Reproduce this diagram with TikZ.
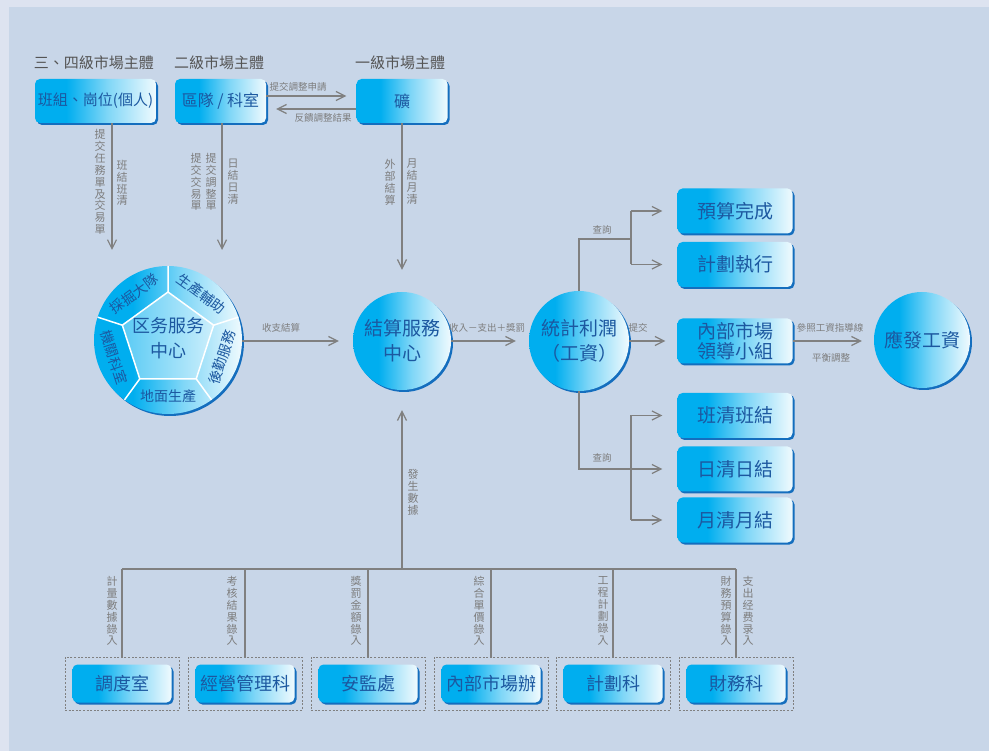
\documentclass[tikz,border=0pt]{standalone}
\usepackage{fontspec}
\setmainfont{Noto Sans CJK TC}
\usepackage{xcolor}
\usepackage{tikz}
\usetikzlibrary{arrows.meta, positioning, shadows}
\definecolor{pagegray}{RGB}{221, 227, 240}
\definecolor{panelblue}{RGB}{200, 214, 232}
\definecolor{boxcyan}{RGB}{0, 174, 239}
\definecolor{edgeblue}{RGB}{20, 110, 190}
\definecolor{inkblue}{RGB}{28, 88, 160}
\definecolor{wiregray}{RGB}{128, 128, 128}
\definecolor{notegray}{RGB}{125, 125, 125}
\definecolor{headgray}{RGB}{85, 85, 85}
\colorlet{midcyan}{boxcyan!50!white}
\colorlet{palecyan}{white!94!boxcyan}
\pgfdeclarehorizontalshading{cyanfade}{100bp}{color(0bp)=(boxcyan); color(38bp)=(boxcyan); color(55bp)=(midcyan); color(75bp)=(palecyan); color(100bp)=(palecyan)}
\XeTeXlinebreaklocale "zh"
\XeTeXlinebreakskip = 0pt plus 1pt

\begin{document}
\begin{tikzpicture}[x=1pt, y=-1pt,
  unit/.style={rounded corners=5pt, shading=cyanfade, text=inkblue, inner sep=0pt, align=center,
    minimum width=115pt, minimum height=45pt, font=\fontsize{19}{20}\selectfont,
    drop shadow={shadow xshift=2pt, shadow yshift=-2pt, fill=edgeblue, opacity=1}},
  topunit/.style={minimum height=44pt, font=\fontsize{16}{18}\selectfont},
  lowunit/.style={minimum width=99pt, minimum height=38pt, font=\fontsize{18}{20}\selectfont},
  disc/.style={circle, shading=cyanfade, text=inkblue, inner sep=0pt, align=center,
    font=\fontsize{19}{25}\selectfont,
    drop shadow={shadow xshift=2pt, shadow yshift=-2pt, fill=edgeblue, opacity=1}},
  seg/.style={text=inkblue, inner sep=0pt, font=\fontsize{14}{16}\selectfont},
  dashbox/.style={draw=wiregray, dash pattern=on 2pt off 1.6pt, line width=0.9pt,
    minimum width=114pt, minimum height=53pt, inner sep=0pt},
  wire/.style={draw=wiregray, line width=1.2pt},
  flow/.style={wire, -{Straight Barb[length=9pt, width=9pt]}},
  head/.style={text=headgray, inner sep=0pt, font=\fontsize{15}{17}\selectfont},
  note/.style={text=notegray, inner sep=0pt, font=\fontsize{9.5}{11}\selectfont},
  vnote/.style={text=notegray, inner sep=0pt, text width=11.5pt, align=center, font=\fontsize{11}{11.9}\selectfont}]
  \useasboundingbox (0,0) rectangle (989,751);
  \fill[pagegray] (0,0) rectangle (989,751);
  \fill[panelblue] (9,7) rectangle (989,751);

  \node[head] (h34) at (94,63) {三、四級市場主體};
  \node[head] (h2) at (219,63) {二級市場主體};
  \node[head] (h1) at (400,63) {一級市場主體};
  \node[unit, topunit, minimum width=121pt, font=\fontsize{15}{17}\selectfont] (grp) at (95.5,101) {班組、崗位(個人)};
  \node[unit, topunit, minimum width=91pt] (team) at (220.5,101) {區隊 / 科室};
  \node[unit, topunit, minimum width=91pt] (mine) at (402,101) {礦};

  \draw[flow] ([yshift=5pt]team.east) -- ([yshift=5pt, xshift=-10pt]mine.west);
  \draw[flow] ([yshift=-8pt]mine.west) -- ([yshift=-8pt, xshift=10pt]team.east);
  \node[note] (lask) at (298,87) {提交調整申請};
  \node[note] (lback) at (323,118) {反饋調整結果};

  \node[disc, minimum size=148pt] (hub) at (168,340) {};
  \begin{scope}[shift={(hub.center)}, y=1pt]
    \draw[white, line width=1.5pt, left color=boxcyan!65!white, right color=boxcyan!20!white]
      (90:48) -- (162:48) -- (234:48) -- (306:48) -- (18:48) -- cycle;
    \draw[white, line width=1.5pt] (90:48) -- (90:74) (162:48) -- (162:74) (234:48) -- (234:74)
      (306:48) -- (306:74) (18:48) -- (18:74);
    \node[seg, rotate=36] (sdig) at (126:57) {採掘大隊};
    \node[seg, rotate=-36] (said) at (54:57) {生產輔助};
    \node[seg, rotate=72] (slog) at (-18:57) {後勤服務};
    \node[seg] (sgnd) at (270:56) {地面生產};
    \node[seg, rotate=-72] (soff) at (198:57) {機關科室};
    \node[seg, align=center, font=\fontsize{18}{25}\selectfont] (hubname) at (0,2) {区务服务\\中心};
  \end{scope}

  \node[disc, minimum size=98pt] (settle) at (402,341) {結算服務\\中心};
  \node[disc, minimum size=100pt] (profit) at (579,341) {統計利潤\\（工資）};
  \node[unit] (lead) at (735,341) {內部市場\\領導小組};
  \node[disc, minimum size=96pt] (wage) at (922,340) {應發工資};
  \node[unit] (budget) at (735,211) {預算完成};
  \node[unit] (plan) at (735,264.5) {計劃執行};
  \node[unit] (shiftend) at (735,415.5) {班清班結};
  \node[unit] (dayend) at (735,469) {日清日結};
  \node[unit] (monthend) at (735,520) {月清月結};

  \coordinate (in1) at (112,250);
  \coordinate (in2) at (222,250);
  \draw[flow] (grp.south -| in1) -- (in1);
  \draw[flow] (team.south -| in2) -- (in2);
  \draw[flow, shorten >=22pt] (mine.south) -- (settle.north);
  \node[vnote] (ltask) at (100,182) {提交任務單及交易單};
  \node[vnote] (lshift) at (122,183) {班結班清};
  \node[vnote] (ltrade) at (196,182) {提交交易單};
  \node[vnote] (ladjust) at (211,182) {提交調整單};
  \node[vnote] (lday) at (233,182) {日結日清};
  \node[vnote] (lext) at (390,182) {外部結算};
  \node[vnote] (lmonth) at (412,182) {月結月清};

  \draw[flow, shorten >=14pt] (hub.east |- settle) -- (settle.west);
  \draw[flow, shorten >=13pt] (settle.east) -- (profit.west);
  \draw[flow, shorten >=12pt] (profit.east) -- (lead.west);
  \draw[flow, shorten >=12pt] (lead.east) -- (wage.west |- lead);
  \node[note] (lsum) at (281,328) {收支結算};
  \node[note] (lcalc) at (487,328) {收入－支出＋獎罰};
  \node[note] (lhand) at (638,328) {提交};
  \node[note] (lguide) at (830,328) {參照工資指導線};
  \node[note] (lbal) at (831,358) {平衡調整};

  \coordinate (q1) at (631,239);
  \coordinate (q2) at (631,469);
  \draw[wire] (profit.north) |- (q1);
  \draw[wire] (q1 |- budget) -- (q1 |- plan);
  \draw[flow, shorten >=15pt] (q1 |- budget) -- (budget.west);
  \draw[flow, shorten >=15pt] (q1 |- plan) -- (plan.west);
  \draw[flow, shorten >=15pt] (profit.south) |- (dayend.west);
  \draw[wire] (q2 |- shiftend) -- (q2 |- monthend);
  \draw[flow, shorten >=15pt] (q2 |- shiftend) -- (shiftend.west);
  \draw[flow, shorten >=15pt] (q2 |- monthend) -- (monthend.west);
  \node[note] (lquery1) at (602,230) {查詢};
  \node[note] (lquery2) at (602,458) {查詢};

  \node[dashbox] (fdisp) at (122,683.5) {};
  \node[dashbox] (fmgmt) at (245,683.5) {};
  \node[dashbox] (fsafe) at (368,683.5) {};
  \node[dashbox] (fmkt) at (491,683.5) {};
  \node[dashbox] (fplan) at (613,683.5) {};
  \node[dashbox] (ffin) at (736,683.5) {};
  \node[unit, lowunit] (disp) at (fdisp) {調度室};
  \node[unit, lowunit] (mgmt) at (fmgmt) {經營管理科};
  \node[unit, lowunit] (safe) at (fsafe) {安監處};
  \node[unit, lowunit] (mkt) at (fmkt) {內部市場辦};
  \node[unit, lowunit] (plandept) at (fplan) {計劃科};
  \node[unit, lowunit] (fin) at (ffin) {財務科};

  \coordinate (bus) at (402,569);
  \draw[wire] (fdisp.north |- bus) -- (ffin.north |- bus);
  \draw[wire] (fdisp.north |- bus) -- (fdisp.north);
  \draw[wire] (fmgmt.north |- bus) -- (fmgmt.north);
  \draw[wire] (fsafe.north |- bus) -- (fsafe.north);
  \draw[wire] (fmkt.north |- bus) -- (fmkt.north);
  \draw[wire] (fplan.north |- bus) -- (fplan.north);
  \draw[wire] (ffin.north |- bus) -- (ffin.north);
  \draw[flow, shorten >=20pt] (bus) -- (settle.south);
  \node[vnote] (ldata) at (413,492) {發生數據};
  \node[vnote] (lmeas) at (112,611) {計量數據錄入};
  \node[vnote] (lexam) at (232,611) {考核結果錄入};
  \node[vnote] (lfine) at (356,611) {獎罰金額錄入};
  \node[vnote] (lprice) at (479,611) {綜合單價錄入};
  \node[vnote] (lproj) at (603,611) {工程計劃錄入};
  \node[vnote] (lbudget) at (726,611) {財務預算錄入};
  \node[vnote] (lspend) at (748,611) {支出经费录入};
\end{tikzpicture}
\end{document}
